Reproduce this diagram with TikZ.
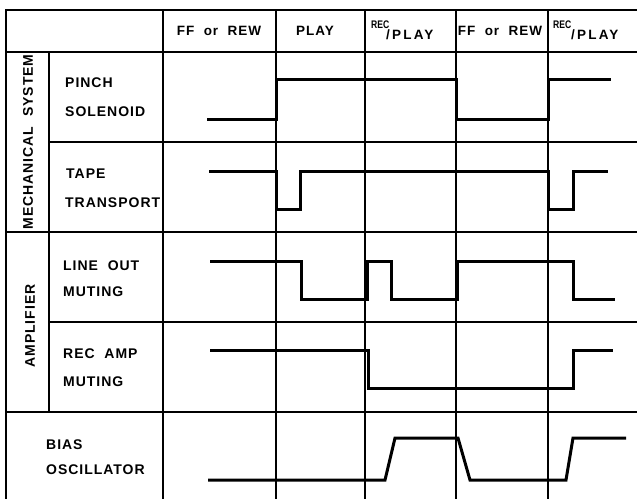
\documentclass[tikz,border=0pt]{standalone}
\usepackage{fontspec}
\setmainfont{Liberation Sans}[LetterSpace=7,WordSpace=2]
\newfontfamily\supfont{Liberation Sans}[FakeStretch=0.78]
\newfontfamily\wideplay{Liberation Sans}[LetterSpace=16]
\begin{document}
\begin{tikzpicture}[x=1pt,y=-1pt,
  grid/.style={line width=1.2pt},
  frame/.style={line width=2.2pt},
  sig/.style={line width=3pt,line join=miter,line cap=butt},
  lbl/.style={anchor=base west,inner sep=0pt,font=\fontsize{14}{14}\selectfont\bfseries},
  hdr/.style={anchor=center,inner sep=0pt,font=\fontsize{13.5}{13.5}\selectfont\bfseries},
  sup/.style={anchor=base west,inner sep=0pt,font=\supfont\fontsize{11}{11}\selectfont\bfseries},
  hdrb/.style={anchor=base west,inner sep=0pt,font=\wideplay\fontsize{13.5}{13.5}\selectfont\bfseries},
  grp/.style={anchor=center,inner sep=0pt,rotate=90,font=\fontsize{14}{14}\selectfont\bfseries}]
\useasboundingbox (0,0) rectangle (637,499);
% grid
\draw[frame] (6,9) -- (6,499);
\draw[grid] (6,10) -- (637,10);
\draw[grid] (6,52) -- (637,52);
\draw[grid] (49,52) -- (49,412);
\draw[grid] (49,142) -- (637,142);
\draw[grid] (6,232) -- (637,232);
\draw[grid] (49,322) -- (637,322);
\draw[grid] (6,412) -- (637,412);
\foreach \x in {163,276,365,456,548} \draw[grid] (\x,10) -- (\x,499);
% header
\node[hdr] (h1) at (219,31) {FF or REW};
\node[hdr] (h2) at (315,31) {PLAY};
\node[sup] (h3a) at (371,28) {REC};
\node[hdrb] (h3b) at (386,39) {/\,PLAY};
\node[hdr] (h4) at (500,31) {FF or REW};
\node[sup] (h5a) at (553,28) {REC};
\node[hdrb] (h5b) at (571,39) {/\,PLAY};
% group labels
\node[grp] (g1) at (28,142) {MECHANICAL SYSTEM};
\node[grp] (g2) at (30,326) {AMPLIFIER};
% row labels
\node[lbl] (r1a) at (65,87) {PINCH};
\node[lbl] (r1b) at (65,116.5) {SOLENOID};
\node[lbl] (r2a) at (66,178) {TAPE};
\node[lbl] (r2b) at (65,207) {TRANSPORT};
\node[lbl] (r3a) at (63,270) {LINE OUT};
\node[lbl] (r3b) at (63,296) {MUTING};
\node[lbl] (r4a) at (63,358.5) {REC AMP};
\node[lbl] (r4b) at (63,386.5) {MUTING};
\node[lbl] (r5a) at (46,449) {BIAS};
\node[lbl] (r5b) at (46,474) {OSCILLATOR};
% signals
\draw[sig] (207,119) -- (276,119) -- (276,79) -- (456,79) -- (456,119) -- (548,119) -- (548,79) -- (611,79);
\draw[sig] (209,171) -- (276,171) -- (276,209) -- (300,209) -- (300,171) -- (548,171) -- (548,209) -- (573,209) -- (573,171) -- (608,171);
\draw[sig] (210,261) -- (301,261) -- (301,299) -- (367,299) -- (367,261) -- (391,261) -- (391,299) -- (457,299) -- (457,261) -- (573,261) -- (573,299) -- (615,299);
\draw[sig] (210,350) -- (368,350) -- (368,388) -- (573,388) -- (573,350) -- (613,350);
\draw[sig] (208,480) -- (385,480) -- (395,438) -- (458,438) -- (470,480) -- (566,480) -- (573,438) -- (626,438);
\end{tikzpicture}
\end{document}
